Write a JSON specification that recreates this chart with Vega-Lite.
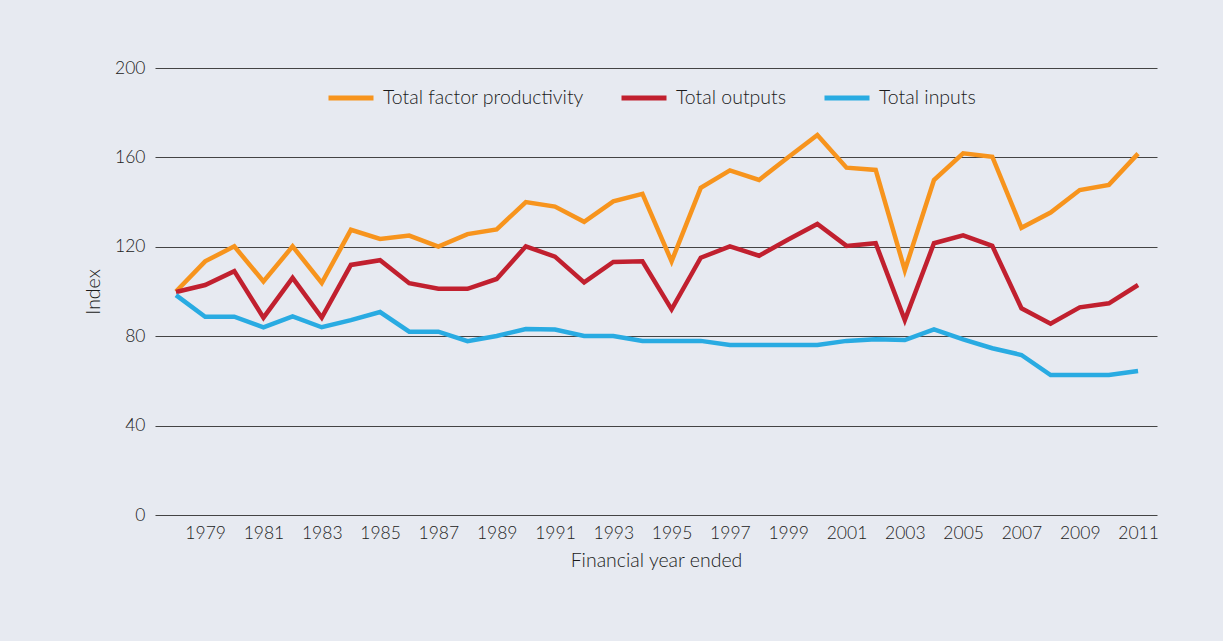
{
  "$schema": "https://vega.github.io/schema/vega-lite/v6.json",
  "width": 1002,
  "height": 447,
  "autosize": {"type": "none"},
  "padding": {"left": 155, "top": 68, "right": 66, "bottom": 126},
  "background": "#e7eaf1",
  "config": {
    "view": {"stroke": null},
    "font": "Lato",
    "axis": {"labelFont": "Lato", "titleFont": "Lato", "labelColor": "#222222", "titleColor": "#1a1a1a", "labelFontSize": 17.5, "titleFontSize": 19.5, "titleFontWeight": 300, "labelFontWeight": 300},
    "legend": {"labelFont": "Lato", "labelFontSize": 19.5, "labelColor": "#1a1a1a", "labelFontWeight": 300, "labelLimit": 0}
  },
  "data": {
    "values": [
      {"year": 1978, "series": "Total factor productivity", "value": 100},
      {"year": 1979, "series": "Total factor productivity", "value": 113.5},
      {"year": 1980, "series": "Total factor productivity", "value": 120.2},
      {"year": 1981, "series": "Total factor productivity", "value": 104.5},
      {"year": 1982, "series": "Total factor productivity", "value": 120.2},
      {"year": 1983, "series": "Total factor productivity", "value": 103.8},
      {"year": 1984, "series": "Total factor productivity", "value": 127.6},
      {"year": 1985, "series": "Total factor productivity", "value": 123.5},
      {"year": 1986, "series": "Total factor productivity", "value": 125},
      {"year": 1987, "series": "Total factor productivity", "value": 120.1},
      {"year": 1988, "series": "Total factor productivity", "value": 125.7},
      {"year": 1989, "series": "Total factor productivity", "value": 127.8},
      {"year": 1990, "series": "Total factor productivity", "value": 140},
      {"year": 1991, "series": "Total factor productivity", "value": 138},
      {"year": 1992, "series": "Total factor productivity", "value": 131.2},
      {"year": 1993, "series": "Total factor productivity", "value": 140.3},
      {"year": 1994, "series": "Total factor productivity", "value": 143.7},
      {"year": 1995, "series": "Total factor productivity", "value": 113.5},
      {"year": 1996, "series": "Total factor productivity", "value": 146.4},
      {"year": 1997, "series": "Total factor productivity", "value": 154.2},
      {"year": 1998, "series": "Total factor productivity", "value": 149.9},
      {"year": 1999, "series": "Total factor productivity", "value": 160.1},
      {"year": 2000, "series": "Total factor productivity", "value": 170},
      {"year": 2001, "series": "Total factor productivity", "value": 155.4},
      {"year": 2002, "series": "Total factor productivity", "value": 154.4},
      {"year": 2003, "series": "Total factor productivity", "value": 109.5},
      {"year": 2004, "series": "Total factor productivity", "value": 149.9},
      {"year": 2005, "series": "Total factor productivity", "value": 161.8},
      {"year": 2006, "series": "Total factor productivity", "value": 160.3},
      {"year": 2007, "series": "Total factor productivity", "value": 128.5},
      {"year": 2008, "series": "Total factor productivity", "value": 135.3},
      {"year": 2009, "series": "Total factor productivity", "value": 145.4},
      {"year": 2010, "series": "Total factor productivity", "value": 147.7},
      {"year": 2011, "series": "Total factor productivity", "value": 161.7},
      {"year": 1978, "series": "Total outputs", "value": 99.8},
      {"year": 1979, "series": "Total outputs", "value": 102.9},
      {"year": 1980, "series": "Total outputs", "value": 109.1},
      {"year": 1981, "series": "Total outputs", "value": 88.3},
      {"year": 1982, "series": "Total outputs", "value": 106.1},
      {"year": 1983, "series": "Total outputs", "value": 88.3},
      {"year": 1984, "series": "Total outputs", "value": 111.9},
      {"year": 1985, "series": "Total outputs", "value": 114},
      {"year": 1986, "series": "Total outputs", "value": 103.7},
      {"year": 1987, "series": "Total outputs", "value": 101.2},
      {"year": 1988, "series": "Total outputs", "value": 101.2},
      {"year": 1989, "series": "Total outputs", "value": 105.6},
      {"year": 1990, "series": "Total outputs", "value": 120.2},
      {"year": 1991, "series": "Total outputs", "value": 115.6},
      {"year": 1992, "series": "Total outputs", "value": 104.1},
      {"year": 1993, "series": "Total outputs", "value": 113.2},
      {"year": 1994, "series": "Total outputs", "value": 113.5},
      {"year": 1995, "series": "Total outputs", "value": 92},
      {"year": 1996, "series": "Total outputs", "value": 115.1},
      {"year": 1997, "series": "Total outputs", "value": 120.2},
      {"year": 1998, "series": "Total outputs", "value": 116},
      {"year": 1999, "series": "Total outputs", "value": 123.3},
      {"year": 2000, "series": "Total outputs", "value": 130.2},
      {"year": 2001, "series": "Total outputs", "value": 120.4},
      {"year": 2002, "series": "Total outputs", "value": 121.6},
      {"year": 2003, "series": "Total outputs", "value": 87.2},
      {"year": 2004, "series": "Total outputs", "value": 121.6},
      {"year": 2005, "series": "Total outputs", "value": 125.1},
      {"year": 2006, "series": "Total outputs", "value": 120.4},
      {"year": 2007, "series": "Total outputs", "value": 92.5},
      {"year": 2008, "series": "Total outputs", "value": 85.6},
      {"year": 2009, "series": "Total outputs", "value": 92.9},
      {"year": 2010, "series": "Total outputs", "value": 94.7},
      {"year": 2011, "series": "Total outputs", "value": 102.9},
      {"year": 1978, "series": "Total inputs", "value": 98.4},
      {"year": 1979, "series": "Total inputs", "value": 88.7},
      {"year": 1980, "series": "Total inputs", "value": 88.7},
      {"year": 1981, "series": "Total inputs", "value": 84},
      {"year": 1982, "series": "Total inputs", "value": 88.9},
      {"year": 1983, "series": "Total inputs", "value": 84},
      {"year": 1984, "series": "Total inputs", "value": 87.2},
      {"year": 1985, "series": "Total inputs", "value": 90.8},
      {"year": 1986, "series": "Total inputs", "value": 82},
      {"year": 1987, "series": "Total inputs", "value": 82},
      {"year": 1988, "series": "Total inputs", "value": 77.8},
      {"year": 1989, "series": "Total inputs", "value": 80.1},
      {"year": 1990, "series": "Total inputs", "value": 83.2},
      {"year": 1991, "series": "Total inputs", "value": 83},
      {"year": 1992, "series": "Total inputs", "value": 80.1},
      {"year": 1993, "series": "Total inputs", "value": 80.1},
      {"year": 1994, "series": "Total inputs", "value": 77.9},
      {"year": 1995, "series": "Total inputs", "value": 77.9},
      {"year": 1996, "series": "Total inputs", "value": 77.9},
      {"year": 1997, "series": "Total inputs", "value": 76.1},
      {"year": 1998, "series": "Total inputs", "value": 76.1},
      {"year": 1999, "series": "Total inputs", "value": 76.1},
      {"year": 2000, "series": "Total inputs", "value": 76.1},
      {"year": 2001, "series": "Total inputs", "value": 77.9},
      {"year": 2002, "series": "Total inputs", "value": 78.6},
      {"year": 2003, "series": "Total inputs", "value": 78.3},
      {"year": 2004, "series": "Total inputs", "value": 83.1},
      {"year": 2005, "series": "Total inputs", "value": 78.6},
      {"year": 2006, "series": "Total inputs", "value": 74.6},
      {"year": 2007, "series": "Total inputs", "value": 71.6},
      {"year": 2008, "series": "Total inputs", "value": 62.6},
      {"year": 2009, "series": "Total inputs", "value": 62.6},
      {"year": 2010, "series": "Total inputs", "value": 62.6},
      {"year": 2011, "series": "Total inputs", "value": 64.4}
    ]
  },
  "mark": {"type": "line", "strokeWidth": 4.5, "strokeJoin": "miter", "strokeCap": "butt"},
  "encoding": {
    "x": {
      "field": "year",
      "type": "quantitative",
      "scale": {"domain": [1977.28, 2011.65], "nice": false, "zero": false},
      "axis": {
        "title": "Financial year ended",
        "values": [1979, 1981, 1983, 1985, 1987, 1989, 1991, 1993, 1995, 1997, 1999, 2001, 2003, 2005, 2007, 2009, 2011],
        "format": "d",
        "grid": false,
        "domain": false,
        "ticks": false,
        "labelPadding": 9,
        "titlePadding": 10
      }
    },
    "y": {
      "field": "value",
      "type": "quantitative",
      "scale": {"domain": [0, 200], "nice": false},
      "axis": {
        "title": "Index",
        "values": [0, 40, 80, 120, 160, 200],
        "grid": true,
        "gridColor": "#444444",
        "gridWidth": 1.2,
        "gridOpacity": 1,
        "domain": false,
        "ticks": false,
        "labelPadding": 10,
        "titlePadding": 11
      }
    },
    "color": {
      "field": "series",
      "type": "nominal",
      "sort": ["Total factor productivity", "Total outputs", "Total inputs"],
      "scale": {"domain": ["Total factor productivity", "Total outputs", "Total inputs"], "range": ["#f7941d", "#c1202f", "#29abe2"]},
      "legend": {
        "title": null,
        "orient": "none",
        "legendX": 171,
        "legendY": 5,
        "direction": "horizontal",
        "symbolType": "stroke",
        "symbolStrokeWidth": 5,
        "symbolSize": 2025,
        "labelOffset": 7,
        "columnPadding": 27,
        "padding": 0
      }
    }
  }
}
